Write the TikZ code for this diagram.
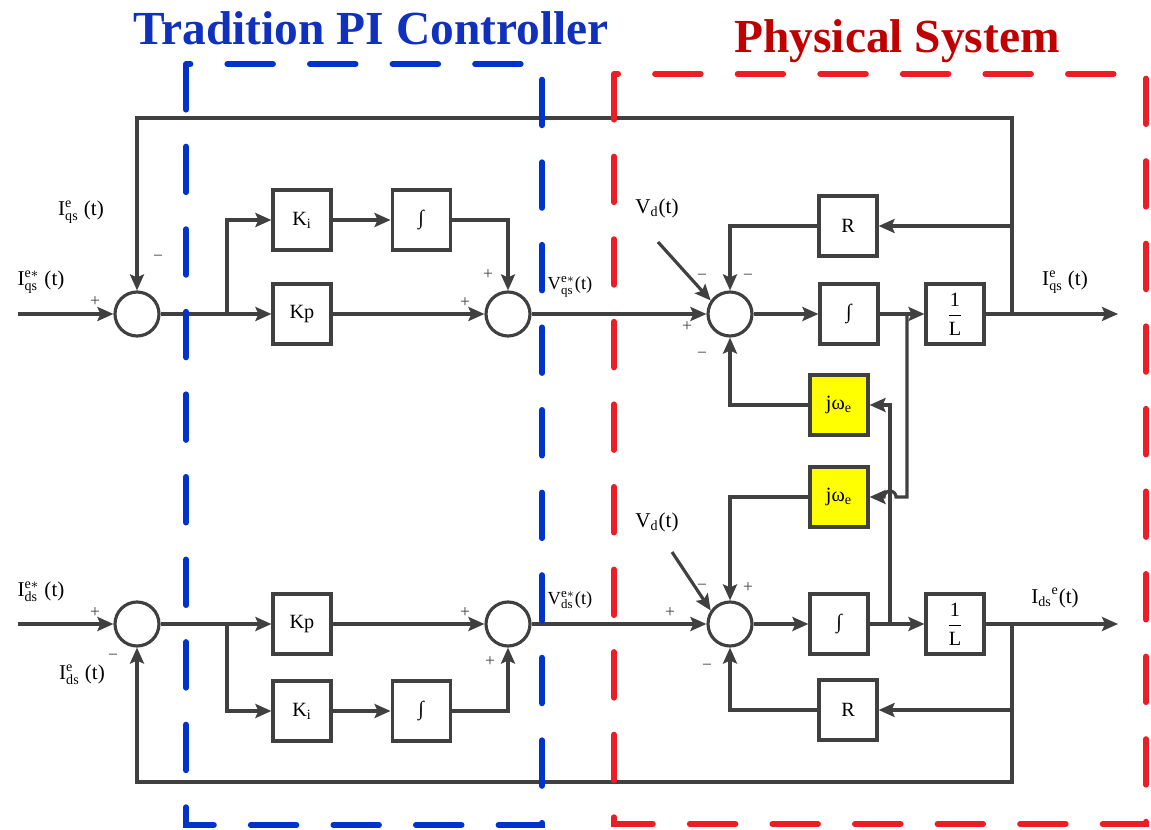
\documentclass[tikz,border=0pt]{standalone}
\usepackage{fontspec}
\setmainfont{Liberation Serif}
\usepackage{xcolor}
\usepackage{tikz}
\usetikzlibrary{arrows.meta, positioning}

\definecolor{wiregray}{RGB}{64,64,64}
\definecolor{piblue}{RGB}{0,51,204}
\definecolor{titleblue}{RGB}{16,48,190}
\definecolor{sysred}{RGB}{238,28,36}
\definecolor{titlered}{RGB}{192,0,0}
\definecolor{jwyellow}{RGB}{255,255,0}

\begin{document}
\begin{tikzpicture}[
    x=0.02cm, y=-0.02cm,
    block/.style={rectangle, draw=wiregray, fill=white, line width=1.8pt, minimum width=1.16cm, minimum height=1.2cm, inner sep=0pt, font=\fontsize{11.5}{13}\selectfont},
    jwblock/.style={block, fill=jwyellow},
    sumj/.style={circle, draw=wiregray, fill=white, line width=1.8pt, minimum size=0.88cm, inner sep=0pt},
    sig/.style={inner sep=1pt, font=\fontsize{12}{14}\selectfont},
    vsig/.style={inner sep=1pt, font=\fontsize{10.5}{12}\selectfont},
    sgn/.style={inner sep=0pt, text=wiregray, font=\fontsize{10}{10}\selectfont},
    title/.style={anchor=base, font=\fontsize{27}{31}\selectfont\bfseries},
    frame/.style={line width=3.3pt, line cap=round, dash pattern=on 26pt off 21pt},
    arr/.style={-{Stealth[length=3.2mm, width=2.8mm, inset=0.6mm]}, line width=1.8pt, draw=wiregray},
    wire/.style={line width=1.8pt, draw=wiregray}
]
\useasboundingbox (0,0) rectangle (1151,830);

% Titles
\node[title, text=titleblue] (pititle) at (371,45) {Tradition PI Controller};
\node[title, text=titlered] (systitle) at (897,53) {Physical System};

% Nodes: q-axis
\node[sumj] (sumq1) at (137,314) {};
\node[block] (kiq) at (302,220) {K\textsubscript{i}};
\node[block] (kpq) at (302,314) {Kp};
\node[block, right=1.16cm of kiq] (intq) {∫};
\node[sumj] (sumq2) at (508,314) {};
\node[sumj] (sumq3) at (730,314) {};
\node[block] (rq) at (848,226) {R};
\node[block] (intpq) at (849,314) {∫};
\node[block] (invlq) at (955,314) {$\displaystyle\frac{\mathrm{1}}{\mathrm{L}}$};
\node[jwblock] (jwq) at (839,405) {jω\textsubscript{e}};

% Nodes: d-axis
\node[sumj] (sumd1) at (137,624) {};
\node[block] (kpd) at (302,624) {Kp};
\node[block] (kid) at (302,711) {K\textsubscript{i}};
\node[block, right=1.16cm of kid] (intd) {∫};
\node[sumj] (sumd2) at (508,624) {};
\node[sumj] (sumd3) at (730,624) {};
\node[jwblock] (jwd) at (839,497) {jω\textsubscript{e}};
\node[block] (intpd) at (839,624) {∫};
\node[block] (invld) at (955,624) {$\displaystyle\frac{\mathrm{1}}{\mathrm{L}}$};
\node[block] (rd) at (848,710) {R};

% Free ends and taps
\coordinate (inq) at (18,314);
\coordinate (ind) at (18,624);
\coordinate (outq) at (1118,314);
\coordinate (outd) at (1118,624);
\coordinate (brq) at (227,314);
\coordinate (brd) at (227,624);
\coordinate (tapq) at (1012,314);
\coordinate (tapd) at (1012,624);
\coordinate (topq) at (1012,118);
\coordinate (botd) at (1012,782);
\coordinate (jnq) at (907,314);
\coordinate (jnd) at (890,624);
\coordinate (hopr) at (896,497);
\coordinate (vdqs) at (658,242);
\coordinate (vdds) at (672,552);

% Signal labels
\node[sig] (iqsfb) at (81,212) {$\mathrm{I}^{\mathrm{e}}_{\mathrm{qs}}$ (t)};
\node[sig] (iqsref) at (41,282) {$\mathrm{I}^{\mathrm{e}*}_{\mathrm{qs}}$ (t)};
\node[sig] (iqsout) at (1065,282) {$\mathrm{I}^{\mathrm{e}}_{\mathrm{qs}}$ (t)};
\node[sig] (idsref) at (41,592) {$\mathrm{I}^{\mathrm{e}*}_{\mathrm{ds}}$ (t)};
\node[sig] (idsfb) at (82,675) {$\mathrm{I}^{\mathrm{e}}_{\mathrm{ds}}$ (t)};
\node[sig] (idsout) at (1055,598) {${\mathrm{I}_{\mathrm{ds}}}^{\mathrm{e}}$(t)};
\node[vsig] (vqs) at (570,287) {$\mathrm{V}^{\mathrm{e}*}_{\mathrm{qs}}$(t)};
\node[vsig] (vds) at (570,600) {$\mathrm{V}^{\mathrm{e}*}_{\mathrm{ds}}$(t)};
\node[sig] (vdq) at (657,208) {$\mathrm{V}_{\mathrm{d}}$(t)};
\node[sig] (vdd) at (657,522) {$\mathrm{V}_{\mathrm{d}}$(t)};

% Signs
\foreach \px/\py/\s [count=\n] in {95/302/+, 158/258/−, 488/275/+, 465/303/+,
    702/277/−, 748/277/−, 687/327/+, 702/355/−,
    95/613/+, 113/657/−, 465/613/+, 490/662/+,
    670/613/+, 702/587/−, 748/588/+, 707/667/−}
    \node[sgn] (sg\n) at (\px,\py) {\s};

% Arrows: q-axis
\draw[arr] (inq) -- (sumq1);
\draw[arr] (sumq1) -- (kpq);
\draw[arr] (brq) |- (kiq.west);
\draw[arr] (kiq) -- (intq);
\draw[arr] (intq.east) -| (sumq2.north);
\draw[arr] (kpq) -- (sumq2);
\draw[arr] (sumq2) -- (sumq3);
\draw[arr] (sumq3) -- (intpq);
\draw[arr] (intpq) -- (invlq);
\draw[arr] (invlq) -- (outq);
\draw[arr] (tapq) -- (topq) -| (sumq1.north);
\draw[arr] (tapq |- rq) -- (rq.east);
\draw[arr] (rq.west) -| (sumq3.north);
\draw[arr] (jwq.west) -| (sumq3.south);
\draw[arr] (vdqs) -- (sumq3.145);

% Arrows: cross coupling
\draw[arr] (jnq) |- (hopr) arc[start angle=0, end angle=180, radius=0.12cm] -- (jwd.east);
\draw[arr] (jnd) |- (jwq.east);

% Arrows: d-axis
\draw[arr] (ind) -- (sumd1);
\draw[arr] (sumd1) -- (kpd);
\draw[arr] (brd) |- (kid.west);
\draw[arr] (kid) -- (intd);
\draw[arr] (intd.east) -| (sumd2.south);
\draw[arr] (kpd) -- (sumd2);
\draw[arr] (sumd2) -- (sumd3);
\draw[arr] (sumd3) -- (intpd);
\draw[arr] (intpd) -- (invld);
\draw[arr] (invld) -- (outd);
\draw[arr] (tapd |- rd) -- (rd.east);
\draw[arr] (tapd) -- (botd) -| (sumd1.south);
\draw[arr] (rd.west) -| (sumd3.south);
\draw[arr] (jwd.west) -| (sumd3.north);
\draw[arr] (vdds) -- (sumd3.145);

% Frames
\draw[frame, draw=piblue] (186,64) rectangle (542,825);
\draw[frame, draw=sysred] (614,74) rectangle (1146,824);

\end{tikzpicture}
\end{document}
